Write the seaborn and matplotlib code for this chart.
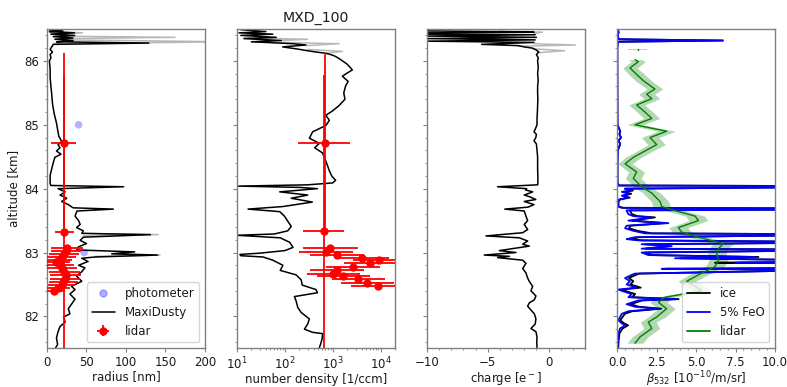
import matplotlib
matplotlib.use("Agg")
import matplotlib.pyplot as plt
from matplotlib.lines import Line2D
from matplotlib.ticker import AutoMinorLocator, MultipleLocator, LogLocator, NullLocator
import numpy as np
import pandas as pd
import seaborn as sns

# ---------------- data ----------------
# Panel 1: MaxiDusty radius profile [nm] vs altitude [km]
r_alt = [86.49, 86.47, 86.46, 86.44, 86.42, 86.40, 86.38, 86.36, 86.34, 86.32, 86.30, 86.28, 86.26,
         86.22, 86.18, 86.14, 86.10, 86.05, 86.00, 85.88, 85.74, 85.60, 85.48, 85.33, 85.18, 85.03,
         84.92, 84.82, 84.74, 84.69, 84.64, 84.59, 84.54, 84.49, 84.41, 84.31, 84.21, 84.08, 84.05,
         84.03, 84.00, 83.95, 83.90, 83.85, 83.80, 83.75, 83.70, 83.68, 83.65, 83.57, 83.50, 83.44,
         83.39, 83.34, 83.30, 83.28, 83.24, 83.19, 83.14, 83.09, 83.04, 83.01, 82.98, 82.96, 82.93,
         82.91, 82.86, 82.80, 82.76, 82.70, 82.63, 82.55, 82.47, 82.42, 82.35, 82.27, 82.19, 82.12,
         82.04, 81.99, 81.91, 81.84, 81.76, 81.66, 81.56, 81.51]
r_val = [3, 20, 3, 35, 5, 35, 8, 33, 10, 33, 12, 129, 8,
         6, 4, 7, 4, 5, 3, 4, 4, 5, 6, 7, 9, 12,
         13.5, 15, 18.6, 14, 16.5, 12, 17.7, 10, 8, 6, 4, 4, 5,
         97, 14, 23, 16.5, 25, 18.6, 27, 33, 84, 38, 35.5, 40, 42,
         37.5, 46, 44, 131, 46, 42, 50, 40, 37.5, 111, 82, 140, 61,
         44, 52, 40, 48, 44, 37.5, 44, 31, 35.5, 29, 35.5, 31, 27,
         29, 21, 23, 16.5, 14, 12, 13.5, 11]
# gray (second) radius trace, visible only where it departs from the black one
r_gray_alt = [86.46, 86.44, 86.42, 86.39, 86.37, 86.35, 86.33, 86.30, 86.27, 83.30, 83.28, 83.26, 82.98, 82.96, 82.94]
r_gray_val = [3, 45, 5, 8, 162, 20, 20, 230, 8, 44, 141, 46, 82, 143, 61]
r_gray_seg = [0, 0, 0, 1, 1, 1, 2, 2, 2, 3, 3, 3, 4, 4, 4]

# photometer radius
photo_alt = [85.0, 83.0]
photo_r = [40, 47]

# lidar radius
lid_r_alt = [84.72, 83.32, 83.075, 83.03, 82.98, 82.93, 82.89, 82.85, 82.80, 82.75, 82.70, 82.65,
             82.59, 82.54, 82.49, 82.44, 82.39]
lid_r = [21.0, 21.6, 25, 23.6, 22, 18.6, 15, 12, 16, 19.4, 22, 23.6, 22.8, 20.7, 18.6, 13.5, 9]
lid_r_xerr = [15.5, 12, 20, 19, 19, 18, 17, 17, 18, 19, 20, 20, 19, 18, 17, 15, 14]
lid_r_yerr = [1.4, 2.45, 0, 0, 0, 0, 0, 0, 0, 0, 0, 0, 0, 0, 0, 0, 0]

# Panel 2: number density [1/ccm]
n_alt = [86.49, 86.46, 86.44, 86.42, 86.40, 86.37, 86.35, 86.32, 86.30, 86.27, 86.25, 86.22, 86.19,
         86.16, 86.14, 86.12, 86.09, 86.07, 86.02, 85.95, 85.86, 85.80, 85.76, 85.68, 85.61, 85.50,
         85.40, 85.30, 85.22, 85.15, 85.07, 84.99, 84.89, 84.79, 84.71, 84.64, 84.56, 84.43, 84.28,
         84.20, 84.13, 84.09, 84.06, 84.04, 84.02, 84.00, 83.95, 83.90, 83.85, 83.79, 83.72, 83.68,
         83.64, 83.57, 83.49, 83.41, 83.34, 83.29, 83.27, 83.23, 83.16, 83.08, 83.03, 82.99, 82.97,
         82.95, 82.93, 82.88, 82.80, 82.72, 82.65, 82.57, 82.49, 82.42, 82.37, 82.31, 82.24, 82.14,
         82.06, 81.96, 81.88, 81.80, 81.75, 81.73, 81.65, 81.57, 81.51]
n_val = [12, 40, 11, 56, 12, 66, 14, 84, 20, 150, 276, 90, 172,
         300, 446, 720, 1000, 1150, 1470, 2000, 2570, 1900, 1590, 2100, 1860, 1700,
         1800, 1350, 1000, 720, 850, 720, 380, 325, 525, 420, 610, 720, 850,
         950, 1150, 1000, 300, 10.7, 200, 480, 78, 300, 136, 375, 91, 17,
         78, 98, 115, 136, 115, 60, 10, 80, 126, 148, 100, 30, 11.5,
         12, 35, 56, 91, 80, 172, 220, 230, 446, 480, 158, 172, 186,
         220, 325, 300, 256, 380, 615, 600, 560, 525]
n_gray_alt = [86.36, 86.34, 86.32, 86.30, 86.27, 86.24, 86.18, 86.15, 86.12]
n_gray_val = [14, 300, 84, 20, 1350, 276, 300, 1600, 720]
n_gray_seg = [0, 0, 0, 1, 1, 1, 2, 2, 2]

# lidar number density
lid_n_alt = [84.72, 83.33, 83.065, 83.01, 82.96, 82.92, 82.88, 82.83, 82.77, 82.72, 82.67, 82.63,
             82.58, 82.53, 82.48]
lid_n = [680, 660, 890, 720, 1200, 4100, 9300, 6100, 2600, 1200, 1030, 1660, 3400, 5300, 8700]
lid_n_lo = [190, 245, 240, 200, 330, 1150, 2600, 1700, 730, 340, 290, 470, 950, 1500, 2450]
lid_n_hi = [2350, 1750, 3300, 2600, 4400, 15000, 34000, 22000, 9500, 4400, 3800, 6000, 12500, 19000, 31000]
lid_n_yerr = [1.4, 2.45, 0, 0, 0, 0, 0, 0, 0, 0, 0, 0, 0, 0, 0]

# Panel 3: charge [e-]
q_alt = [86.49, 86.47, 86.46, 86.45, 86.44, 86.42, 86.41, 86.39, 86.37, 86.35, 86.33, 86.31, 86.29,
         86.26, 86.24, 86.22, 86.20, 86.17, 86.14, 86.10, 86.05, 86.00, 85.90, 85.80, 85.70, 85.60,
         85.50, 85.40, 85.30, 85.20, 85.10, 85.00, 84.93, 84.89, 84.85, 84.80, 84.75, 84.70, 84.60,
         84.50, 84.40, 84.30, 84.20, 84.10, 84.06, 84.03, 84.00, 83.98, 83.95, 83.90, 83.87, 83.83,
         83.80, 83.75, 83.71, 83.68, 83.65, 83.57, 83.50, 83.44, 83.36, 83.31, 83.26, 83.23, 83.18,
         83.13, 83.10, 83.03, 83.00, 82.96, 82.94, 82.92, 82.88, 82.83, 82.75, 82.68, 82.60, 82.55,
         82.47, 82.40, 82.32, 82.26, 82.21, 82.16, 82.10, 82.04, 81.96, 81.88, 81.81, 81.76, 81.68,
         81.58, 81.51]
q_val = [-10.0, -9.9, -4.0, -1.2, -10.0, -10.0, -1.1, -10.0, -1.0, -10.0, -1.1, -10.0, -1.2,
         -5.5, -2.5, -2.0, -1.3, -1.0, -0.8, -1.0, -0.85, -0.9, -0.85, -0.9, -0.85, -0.9,
         -0.9, -0.88, -0.9, -0.92, -0.95, -0.95, -1.1, -1.2, -1.0, -1.05, -1.2, -1.0, -0.95,
         -0.9, -0.9, -0.9, -0.88, -0.88, -0.9, -4.2, -1.8, -1.9, -1.3, -2.0, -1.5, -1.05,
         -2.0, -1.2, -1.7, -3.6, -2.0, -1.86, -1.72, -2.0, -1.72, -2.13, -5.15, -2.4, -1.72,
         -2.13, -1.59, -4.05, -2.68, -5.29, -3.22, -4.19, -2.13, -1.86, -2.13, -1.86, -1.72, -1.59,
         -1.31, -1.45, -1.04, -1.17, -1.59, -1.72, -1.45, -1.17, -1.04, -1.1, -1.45, -1.04, -0.95,
         -0.97, -0.95]
q_gray_alt = [86.47, 86.45, 86.43, 86.27, 86.25, 86.23, 86.19, 86.16, 86.13]
q_gray_val = [-4.0, -0.5, -1.2, -1.2, 2.2, -2.5, -1.3, 1.3, -0.8]
q_gray_seg = [0, 0, 0, 1, 1, 1, 2, 2, 2]

# Panel 4: backscatter beta_532 [1e-10 /m/sr]
b_alt = [86.49, 86.45, 86.40, 86.34, 86.32, 86.30, 86.20, 86.00, 85.00, 84.90, 84.85, 84.80, 84.75,
         84.70, 84.60, 84.40, 84.10, 84.05, 84.04, 84.025, 84.00, 83.97, 83.95, 83.92, 83.89, 83.86,
         83.83, 83.80, 83.72, 83.70, 83.69, 83.675, 83.66, 83.60, 83.57, 83.55, 83.50, 83.46, 83.44,
         83.42, 83.38, 83.34, 83.30, 83.285, 83.275, 83.24, 83.21, 83.19, 83.165, 83.155, 83.13, 83.10,
         83.06, 83.045, 83.035, 83.00, 82.96, 82.93, 82.91, 82.875, 82.86, 82.84, 82.83, 82.80, 82.785,
         82.76, 82.745, 82.73, 82.70, 82.67, 82.65, 82.60, 82.55, 82.50, 82.45, 82.42, 82.40, 82.35,
         82.30, 82.27, 82.25, 82.19, 82.15, 82.12, 82.08, 82.04, 81.99, 81.94, 81.89, 81.86, 81.81,
         81.73, 81.61, 81.51]
b_feo = [0.05, 0.1, 0.05, 0.1, 6.7, 0.05, 0.02, 0.02, 0.03, 0.2, 0.15, 0.25, 0.1,
         0.2, 0.05, 0.03, 0.03, 0.1, 14, 14, 0.5, 0.9, 0.3, 0.8, 0.3, 0.7,
         0.1, 0.05, 0.05, 0.3, 14, 14, 0.6, 0.72, 1.03, 2.2, 0.72, 3.25, 1.77,
         0.61, 0.51, 1.03, 1.77, 14, 14, 1.14, 0.61, 1.35, 14, 14, 1.56, 3.46,
         1.56, 14, 14, 1.56, 1.98, 8.73, 3.67, 14, 14, 7.47, 14, 14, 14,
         14, 2.83, 14, 7.89, 1.14, 0.93, 0.51, 0.82, 0.61, 1.24, 0.1, 0.3, 0.93,
         0.72, 3.77, 1.35, 0.61, 1.14, 2.62, 0.72, 0.3, 0.19, 0.08, 0.3, 0.51, 0.19,
         0.08, 0.05, 0.05]
b_ice = [0.05, 0.1, 0.05, 0.1, 6.7, 0.05, 0.02, 0.02, 0.03, 0.2, 0.15, 0.25, 0.1,
         0.2, 0.05, 0.03, 0.03, 0.1, 14, 14, 0.5, 1.0, 0.4, 0.9, 0.4, 0.8,
         0.2, 0.1, 0.1, 0.4, 14, 14, 0.8, 0.95, 1.3, 2.4, 0.95, 3.0, 2.0,
         0.85, 0.75, 1.3, 2.2, 14, 14, 1.4, 0.85, 1.6, 14, 14, 1.8, 3.3,
         1.8, 14, 14, 1.8, 2.2, 8.95, 4.0, 14, 14, 6.2, 14, 14, 14,
         14, 3.1, 14, 7.6, 1.4, 1.2, 0.75, 1.03, 0.85, 1.5, 0.3, 0.5, 1.15,
         0.95, 3.9, 1.6, 0.85, 1.4, 2.8, 0.95, 0.5, 0.35, 0.2, 0.45, 0.7, 0.35,
         0.15, 0.1, 0.08]

# lidar backscatter with uncertainty
g_alt = [86.02, 85.99, 85.89, 85.79, 85.69, 85.56, 85.48, 85.41, 85.31, 85.20, 85.10, 85.00, 84.90,
         84.80, 84.69, 84.59, 84.49, 84.39, 84.26, 84.16, 84.03, 83.93, 83.80, 83.72, 83.65, 83.57,
         83.50, 83.39, 83.32, 83.24, 83.14, 83.06, 82.98, 82.88, 82.78, 82.65, 82.55, 82.47, 82.40,
         82.30, 82.22, 82.12, 81.99, 81.91, 81.81, 81.68, 81.58]
g_val = [1.14, 1.35, 0.82, 1.24, 1.67, 2.40, 1.88, 2.20, 1.24, 1.77, 2.20, 1.14, 3.14,
         2.09, 2.51, 1.77, 1.03, 0.51, 1.24, 1.03, 1.56, 2.20, 2.72, 2.83, 3.77, 4.94,
         5.15, 3.88, 4.09, 5.15, 6.73, 6.42, 6.31, 6.42, 6.20, 5.15, 4.41, 4.94, 5.36,
         3.04, 2.62, 3.14, 2.51, 1.98, 2.20, 1.46, 1.14]
g_err = [0.45, 0.45, 0.45, 0.5, 0.5, 0.5, 0.5, 0.5, 0.5, 0.5, 0.5, 0.5, 0.55,
         0.55, 0.55, 0.5, 0.5, 0.45, 0.5, 0.5, 0.5, 0.55, 0.55, 0.55, 0.6, 0.6,
         0.6, 0.6, 0.6, 0.6, 0.65, 0.6, 0.6, 0.6, 0.6, 0.6, 0.55, 0.6, 0.6,
         0.55, 0.55, 0.55, 0.55, 0.5, 0.5, 0.5, 0.5]
g_iso_alt = [86.19, 86.17]
g_iso_val = [1.3, 1.3]
g_iso_err = [0.6, 0.6]

# ---------------- style ----------------
S = 0.85  # overall scale of text / tick sizes
sns.set_theme(style="ticks")
plt.rcParams.update({
    "font.family": ["DejaVu Sans"],
    "font.size": 10 * S,
    "axes.labelsize": 10 * S,
    "axes.titlesize": 12 * S,
    "xtick.labelsize": 10 * S,
    "ytick.labelsize": 10 * S,
    "legend.fontsize": 10 * S,
    "axes.edgecolor": "0.5",
    "xtick.color": "0.5",
    "ytick.color": "0.5",
    "xtick.labelcolor": "0.1",
    "ytick.labelcolor": "0.1",
    "axes.labelcolor": "0.1",
    "text.color": "0.1",
    "axes.linewidth": 1.0,
    "xtick.major.size": 3.5 * S,
    "ytick.major.size": 3.5 * S,
    "xtick.minor.size": 2.0 * S,
    "ytick.minor.size": 2.0 * S,
    "xtick.major.width": 0.8,
    "ytick.major.width": 0.8,
    "xtick.minor.width": 0.6,
    "ytick.minor.width": 0.6,
    "xtick.major.pad": 2.5,
    "ytick.major.pad": 3.0,
    "axes.labelpad": 1.0,
    "axes.titlepad": 6.0 * S,
})

fig, axes = plt.subplots(1, 4, figsize=(7.87, 3.87), dpi=100, sharey=True)
fig.subplots_adjust(left=0.0597, right=0.9848, top=0.925, bottom=0.1, wspace=0.2025)
ax1, ax2, ax3, ax4 = axes


def line(ax, x, y, color, lw=1.1, units=None, zorder=2):
    df = pd.DataFrame({"x": x, "y": y})
    kw = {}
    if units is not None:
        df["u"] = units
        kw["units"] = "u"
    sns.lineplot(data=df, x="x", y="y", sort=False, estimator=None, color=color,
                 lw=lw, ax=ax, legend=False, zorder=zorder, **kw)


# Panel 1
line(ax1, r_gray_val, r_gray_alt, "0.72", units=r_gray_seg, zorder=1)
line(ax1, r_val, r_alt, "black")
sns.scatterplot(x=photo_r, y=photo_alt, color="blue", alpha=0.3, s=30, edgecolor="none", ax=ax1, zorder=3)
eb1 = ax1.errorbar(lid_r, lid_r_alt, xerr=lid_r_xerr, yerr=lid_r_yerr, fmt="o", color="red",
                   ms=5, elinewidth=1.3, zorder=4)
ax1.set_xlim(0, 200)
ax1.xaxis.set_major_locator(MultipleLocator(50))
ax1.xaxis.set_minor_locator(NullLocator())
ax1.set_xlabel("radius [nm]")
ax1.set_ylabel("altitude [km]", labelpad=3)
h1 = [Line2D([], [], marker="o", color="blue", alpha=0.3, ls="none", ms=5),
      Line2D([], [], color="black", lw=1.1),
      eb1]
ax1.legend(h1, ["photometer", "MaxiDusty", "lidar"], loc="lower right")

# Panel 2
ax2.set_xscale("log")
line(ax2, n_gray_val, n_gray_alt, "0.72", units=n_gray_seg, zorder=1)
line(ax2, n_val, n_alt, "black")
n_arr = np.array(lid_n)
xerr_n = [n_arr - np.array(lid_n_lo), np.array(lid_n_hi) - n_arr]
ax2.errorbar(lid_n, lid_n_alt, xerr=xerr_n, yerr=lid_n_yerr, fmt="o", color="red",
             ms=5, elinewidth=1.3, zorder=4)
ax2.set_xlim(10, 2e4)
ax2.xaxis.set_major_locator(LogLocator(base=10, numticks=10))
ax2.xaxis.set_minor_locator(LogLocator(base=10, subs=np.arange(2, 10), numticks=20))
ax2.set_xlabel("number density [1/ccm]", labelpad=0.0)
ax2.set_title("MXD_100")

# Panel 3
line(ax3, q_gray_val, q_gray_alt, "0.72", units=q_gray_seg, zorder=1)
line(ax3, q_val, q_alt, "black")
ax3.set_xlim(-10, 3)
ax3.xaxis.set_major_locator(MultipleLocator(5))
ax3.xaxis.set_minor_locator(MultipleLocator(1))
ax3.set_xlabel("charge [e$^-$]")

# Panel 4
ax4.fill_betweenx(g_alt, np.array(g_val) - np.array(g_err), np.array(g_val) + np.array(g_err),
                  color="green", alpha=0.3, lw=0)
ax4.fill_betweenx(g_iso_alt, np.array(g_iso_val) - np.array(g_iso_err),
                  np.array(g_iso_val) + np.array(g_iso_err), color="green", alpha=0.3, lw=0)
line(ax4, b_ice, b_alt, "black", lw=1.3)
line(ax4, b_feo, b_alt, "blue", lw=1.3)
line(ax4, g_val, g_alt, "green", lw=1.0, zorder=3)
line(ax4, g_iso_val, g_iso_alt, "green", lw=1.0, zorder=3)
ax4.set_xlim(0, 10)
ax4.xaxis.set_major_locator(MultipleLocator(2.5))
ax4.xaxis.set_minor_locator(AutoMinorLocator())
ax4.set_xlabel(r"$\beta_{532}$ [10$^{-10}$/m/sr]", labelpad=0.0)
h4 = [Line2D([], [], color="black", lw=1.3), Line2D([], [], color="blue", lw=1.3),
      Line2D([], [], color="green", lw=1.3)]
ax4.legend(h4, ["ice", "5% FeO", "lidar"], loc="lower right")

for ax in axes:
    ax.set_ylim(81.5, 86.5)
    ax.yaxis.set_major_locator(MultipleLocator(1))
    ax.yaxis.set_minor_locator(MultipleLocator(0.2))
    for s in ax.spines.values():
        s.set_visible(True)
for ax in axes[1:]:
    ax.set_ylabel("")

fig.savefig("out.png", dpi=100)
